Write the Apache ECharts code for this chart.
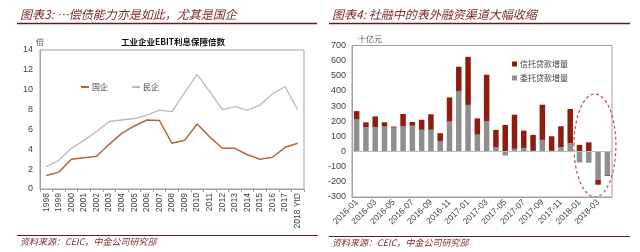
<!DOCTYPE html>
<html><head><meta charset="utf-8">
<script src="https://cdn.jsdelivr.net/npm/echarts@6/dist/echarts.min.js"></script>
<style>html,body{margin:0;padding:0;background:#fff}#c{width:640px;height:252px}</style>
</head><body><div id="c"></div>
<script>
// Left chart data: EBIT interest coverage (倍)
const years = ['1998','1999','2000','2001','2002','2003','2004','2005','2006','2007','2008','2009','2010','2011','2012','2013','2014','2015','2016','2017','2018 YtD'];
const soe = [1.35,1.7,3.0,3.15,3.3,4.5,5.6,6.35,6.95,6.9,4.6,4.9,6.55,5.25,4.1,4.1,3.45,3.0,3.2,4.2,4.6];
const privateEnt = [2.25,2.9,4.1,4.9,5.8,6.8,6.95,7.1,7.45,7.95,7.8,9.7,11.55,9.8,8.0,8.3,7.95,8.45,9.6,10.3,8.0];
const leftTicks = {min:0, max:14, interval:2};

// Right chart data: 十亿元
const months = ['2016-01','2016-02','2016-03','2016-04','2016-05','2016-06','2016-07','2016-08','2016-09','2016-10','2016-11','2016-12',
 '2017-01','2017-02','2017-03','2017-04','2017-05','2017-06','2017-07','2017-08','2017-09','2017-10','2017-11','2017-12',
 '2018-01','2018-02','2018-03','2018-04'];
const trust = [55,33,72,28,7,82,24,66,102,53,159,160,317,107,307,115,175,225,114,105,232,96,139,226,44,61,-33,-7];
const entrusted = [212,160,160,165,158,166,171,144,144,68,198,400,308,112,200,28,-26,18,24,5,77,5,28,55,-72,-74,-186,-153];
const rightTicks = {min:-300, max:700, interval:100};

const maroon = '#7d2a2f';
const chart = echarts.init(document.getElementById('c'), null, {renderer:'canvas'});
const numFont = 'Liberation Sans, Arial, sans-serif';
const cjk = 'Noto Sans CJK SC, sans-serif';

const option = {
  animation:false,
  title:{text:'工业企业EBIT利息保障倍数', left:168, top:33, textAlign:'center',
    textStyle:{fontSize:8.5, fontWeight:'bold', color:'#111', fontFamily:cjk}},
  legend:[
    {data:['国企','民企'], left:76, top:78, icon:'rect', itemWidth:8, itemHeight:2, itemGap:24,
     textStyle:{fontSize:8, color:'#404040', fontFamily:cjk, padding:[0,0,0,-2]}},
    {data:['信托贷款增量','委托贷款增量'], orient:'vertical', left:507, top:55, icon:'rect', itemWidth:5, itemHeight:5, itemGap:6,
     textStyle:{fontSize:8, color:'#404040', fontFamily:cjk, padding:[0,0,0,-2]}}
  ],
  grid:[
    {left:40, top:50, width:264, height:139, show:true, borderColor:'#a0a0a0', borderWidth:1},
    {left:352, top:45.5, width:260, height:151.5, show:true, borderColor:'#a0a0a0', borderWidth:1}
  ],
  xAxis:[
    {type:'category', gridIndex:0, data:years, boundaryGap:true,
     axisLine:{lineStyle:{color:'#a0a0a0'}}, axisTick:{show:true, length:3, lineStyle:{color:'#a0a0a0'}},
     axisLabel:{rotate:90, interval:0, fontSize:8.5, color:'#404040', margin:4, fontFamily:numFont}},
    {type:'category', gridIndex:1, data:months, boundaryGap:true,
     axisLine:{onZero:false, lineStyle:{color:'#a0a0a0'}}, axisTick:{show:false},
     axisLabel:{rotate:45, interval:1, fontSize:8.5, color:'#404040', margin:4, fontFamily:numFont}}
  ],
  yAxis:[
    {type:'value', gridIndex:0, min:leftTicks.min, max:leftTicks.max, interval:leftTicks.interval,
     name:'倍', nameLocation:'end', nameGap:4,
     nameTextStyle:{fontSize:8, color:'#555', align:'center', verticalAlign:'bottom', fontFamily:cjk},
     axisLine:{show:true, lineStyle:{color:'#a0a0a0'}}, axisTick:{show:false}, splitLine:{show:false},
     axisLabel:{fontSize:9, color:'#404040', margin:7, fontFamily:numFont}},
    {type:'value', gridIndex:1, min:rightTicks.min, max:rightTicks.max, interval:rightTicks.interval,
     name:'十亿元', nameLocation:'end', nameGap:3,
     nameTextStyle:{fontSize:8, color:'#555', align:'left', verticalAlign:'bottom', padding:[0,0,0,6], fontFamily:cjk},
     axisLine:{show:true, lineStyle:{color:'#a0a0a0'}}, axisTick:{show:false}, splitLine:{show:false},
     axisLabel:{fontSize:9, color:'#404040', margin:6, fontFamily:numFont}}
  ],
  series:[
    {name:'国企', type:'line', xAxisIndex:0, yAxisIndex:0, data:soe, symbol:'none',
     color:'#b5663f', lineStyle:{color:'#b5663f', width:1.5}},
    {name:'民企', type:'line', xAxisIndex:0, yAxisIndex:0, data:privateEnt, symbol:'none',
     color:'#b9b9b9', lineStyle:{color:'#b9b9b9', width:1.3}},
    {name:'委托贷款增量', type:'bar', xAxisIndex:1, yAxisIndex:1, stack:'s', data:entrusted, barWidth:5.5,
     color:'#8f8f8f',
     markLine:{silent:true, symbol:'none', label:{show:false}, data:[{yAxis:0}],
       lineStyle:{color:'#bdbdbd', type:'solid', width:1}}},
    {name:'信托贷款增量', type:'bar', xAxisIndex:1, yAxisIndex:1, stack:'s', data:trust, barWidth:5.5,
     color:'#8c1d0f'}
  ]
};
chart.setOption(option);

// decorations: headings, rules, sources, dashed ellipse
const p1 = chart.convertToPixel({xAxisIndex:1, yAxisIndex:1}, ['2018-01', 40]);
const p2 = chart.convertToPixel({xAxisIndex:1, yAxisIndex:1}, ['2018-04', 40]);
chart.setOption({graphic:[
  {type:'text', left:20, top:8, style:{text:'图表3: …偿债能力亦是如此，尤其是国企', fontSize:12, fontStyle:'italic', fill:maroon, fontFamily:cjk}},
  {type:'text', left:332, top:8, style:{text:'图表4: 社融中的表外融资渠道大幅收缩', fontSize:12, fontStyle:'italic', fill:maroon, fontFamily:cjk}},
  {type:'line', shape:{x1:17, y1:23.5, x2:317, y2:23.5}, style:{stroke:'#5e1d22', lineWidth:1.5}},
  {type:'line', shape:{x1:329, y1:23.5, x2:630, y2:23.5}, style:{stroke:'#5e1d22', lineWidth:1.5}},
  {type:'line', shape:{x1:17, y1:235.5, x2:318, y2:235.5}, style:{stroke:'#5e1d22', lineWidth:1.2}},
  {type:'line', shape:{x1:329, y1:236.5, x2:630, y2:236.5}, style:{stroke:'#5e1d22', lineWidth:1.2}},
  {type:'text', left:20, top:237, style:{text:'资料来源：CEIC，中金公司研究部', fontSize:9, fontStyle:'italic', fill:maroon, fontFamily:cjk}},
  {type:'text', left:332, top:238, style:{text:'资料来源：CEIC，中金公司研究部', fontSize:9, fontStyle:'italic', fill:maroon, fontFamily:cjk}},
  {type:'ellipse', shape:{cx:(p1[0]+p2[0])/2+1.5, cy:p1[1], rx:21, ry:51.5},
   style:{fill:'none', stroke:'#b4505c', lineWidth:1.2, lineDash:[3,2.5]}}
]});
</script></body></html>
